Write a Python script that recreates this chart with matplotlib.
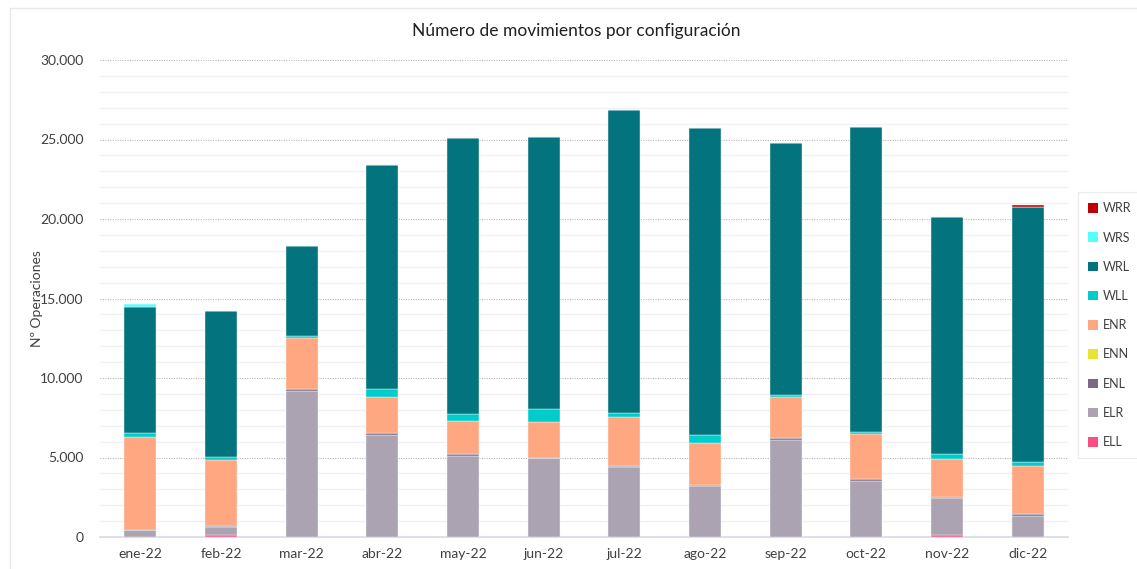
import numpy as np
import matplotlib.pyplot as plt
from matplotlib.patches import Patch, Rectangle
from matplotlib.ticker import FuncFormatter, MultipleLocator

plt.rcParams['font.family'] = ['Lato', 'DejaVu Sans']

meses = ['ene-22', 'feb-22', 'mar-22', 'abr-22', 'may-22', 'jun-22',
         'jul-22', 'ago-22', 'sep-22', 'oct-22', 'nov-22', 'dic-22']

# series, bottom to top
ELL = [0, 150, 0, 0, 0, 0, 0, 0, 0, 0, 130, 0]
ELR = [450, 500, 9180, 6400, 5090, 4950, 4420, 3210, 6120, 3520, 2340, 1340]
ENL = [0, 40, 130, 120, 150, 40, 60, 60, 90, 130, 50, 130]
ENN = [0, 0, 0, 0, 0, 0, 0, 0, 0, 0, 0, 0]
ENR = [5850, 4150, 3220, 2290, 2060, 2240, 3070, 2660, 2590, 2850, 2410, 3000]
WLL = [240, 190, 110, 500, 460, 820, 250, 470, 100, 120, 290, 270]
WRL = [7940, 9180, 5680, 14070, 17330, 17110, 19040, 19320, 15880, 19150, 14890, 16010]
WRS = [170, 0, 0, 0, 0, 0, 0, 0, 0, 0, 0, 0]
WRR = [0, 0, 0, 0, 0, 0, 0, 0, 0, 0, 0, 110]

series = [('ELL', ELL, '#F84F81'), ('ELR', ELR, '#ABA3B2'), ('ENL', ENL, '#7A6A88'),
          ('ENN', ENN, '#E6E632'), ('ENR', ENR, '#FFA781'), ('WLL', WLL, '#00CCCC'),
          ('WRL', WRL, '#03737D'), ('WRS', WRS, '#55FFFF'), ('WRR', WRR, '#C00000')]

fig = plt.figure(figsize=(11.37, 5.69), dpi=100)
ax = fig.add_axes([100/1137, 1-537/569, 968/1137, 477/569])

x = np.arange(len(meses))
bottom = np.zeros(len(meses))
for name, vals, col in series:
    ax.bar(x, vals, bottom=bottom, width=0.4, color=col, edgecolor='#f4f6f8',
           linewidth=0.3, label=name, zorder=3)
    bottom += np.array(vals)

ax.set_xlim(-0.5, len(meses) - 0.5)
ax.set_ylim(0, 30000)
ax.set_xticks(x)
ax.set_xticklabels(meses)
ax.yaxis.set_major_locator(MultipleLocator(5000))
ax.yaxis.set_minor_locator(MultipleLocator(1000))
ax.yaxis.set_major_formatter(FuncFormatter(lambda v, p: f'{int(v):,}'.replace(',', '.')))
ax.grid(axis='y', which='minor', color='#eef1f5', linewidth=1, zorder=0)
ax.grid(axis='y', which='major', color='#b8b8b8', linewidth=0.8, linestyle=(0, (1, 1.2)), zorder=1)
ax.tick_params(axis='both', which='both', length=0, labelsize=10, colors='#404040')
ax.tick_params(axis='y', pad=12)
ax.tick_params(axis='x', pad=8)
for s in ['top', 'right', 'left']:
    ax.spines[s].set_visible(False)
ax.spines['bottom'].set_color('#d6dbe2')
ax.spines['bottom'].set_linewidth(1.2)

ax.set_ylabel('Nº Operaciones', fontsize=10, color='#404040', labelpad=-2)
fig.text(576/1137, 1-31/569, 'Número de movimientos por configuración',
         ha='center', va='center', fontsize=12.5, color='#202020')

handles = [Patch(facecolor=col, label=name) for name, vals, col in series[::-1]]
leg = fig.legend(handles=handles, loc='upper left', bbox_to_anchor=(1082/1137, 1-196/569),
                 fontsize=9, frameon=True, handlelength=0.8, handleheight=0.8,
                 handletextpad=0.35, labelspacing=1.38, borderpad=0.5, borderaxespad=0)
leg.get_frame().set_edgecolor('#e6e6e6')
leg.get_frame().set_linewidth(0.8)
leg.get_frame().set_boxstyle('square')
for t in leg.get_texts():
    t.set_color('#404040')

fig.patches.append(Rectangle((10/1137, -0.1), 1.2, 1-8/569 + 0.1, transform=fig.transFigure,
                             fill=False, edgecolor='#e8e8e8', linewidth=1))

fig.savefig('out.png', dpi=100)
